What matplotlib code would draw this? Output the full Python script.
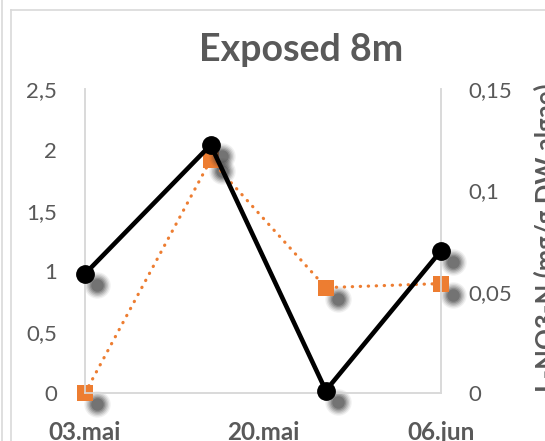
import matplotlib
matplotlib.use("Agg")
from matplotlib import pyplot as plt
import matplotlib.transforms as mtransforms
from matplotlib.lines import Line2D
import pandas as pd

plt.rcParams['font.family'] = ['Lato', 'DejaVu Sans']

# sampling dates and measured values
dates = pd.to_datetime(['2017-05-03', '2017-05-15', '2017-05-26', '2017-06-06'])
left_vals = [0.98, 2.04, 0.02, 1.17]        # black series, left axis
no3_vals = [0.0, 0.115, 0.052, 0.054]       # orange series, right axis

tick_dates = pd.to_datetime(['2017-05-03', '2017-05-20', '2017-06-06'])
tick_labels = ['03.mai', '20.mai', '06.jun']
left_ticks = [0, 0.5, 1, 1.5, 2, 2.5]
right_ticks = [0, 0.05, 0.1, 0.15]

grey_txt = '#595959'
grid_col = '#d9d9d9'
orange = '#ED7D31'


def comma(v):
    s = ('%g' % v).replace('.', ',')
    return s


def shadow(ax, x, y, fig):
    # soft drop shadow below/right of each marker
    tr = mtransforms.offset_copy(ax.transData, fig, x=8.5, y=-8, units='points')
    for size, a in [(19, 0.07), (17, 0.1), (15, 0.14), (13, 0.18), (11, 0.22), (9, 0.28)]:
        ax.plot(x, y, linestyle='none', marker='o', markersize=size,
                color='#303030', alpha=a, markeredgewidth=0,
                transform=tr, clip_on=False, zorder=1)


fig = plt.figure(figsize=(5.45, 4.41), dpi=100)
ax = fig.add_axes([85 / 545, 48 / 441, 356 / 545, 304 / 441])
ax2 = ax.twinx()

# orange series on the secondary axis
shadow(ax2, dates, no3_vals, fig)
ax2.plot(dates, no3_vals, color=orange, linewidth=2.3,
         linestyle=(0, (0.1, 2.4)), dash_capstyle='round',
         marker='s', markersize=11, markeredgewidth=0, clip_on=False, zorder=3)

# black series on the primary axis, drawn above the orange one
shadow(ax, dates, left_vals, fig)
ax.plot(dates, left_vals, color='black', linewidth=3.3,
        marker='o', markersize=12.5, clip_on=False, zorder=3)

ax.set_zorder(ax2.get_zorder() + 1)
ax.patch.set_visible(False)

ax.set_xlim(dates[0], dates[-1])
ax.set_ylim(0, 2.5)
ax2.set_ylim(0, 0.15)

ax.set_xticks(tick_dates)
ax.set_xticklabels(tick_labels, fontweight='bold', fontsize=17.5, color=grey_txt)
ax.set_yticks(left_ticks)
ax.set_yticklabels([comma(v) for v in left_ticks], fontsize=16, color=grey_txt)
ax2.set_yticks(right_ticks)
ax2.set_yticklabels([comma(v) for v in right_ticks], fontsize=16, color=grey_txt)

ax.tick_params(axis='x', length=0, pad=20)
ax.tick_params(axis='y', length=0, pad=20)
ax2.tick_params(axis='y', length=0, pad=20)

for a in (ax, ax2):
    a.spines['top'].set_visible(False)
    for s in ('left', 'right', 'bottom'):
        a.spines[s].set_color(grid_col)
        a.spines[s].set_linewidth(1.2)

ax2.set_ylabel('L-NO3-N (mg/g DW algae)', fontsize=18.5, fontweight='bold',
               color=grey_txt, rotation=90, labelpad=12)
ax2.yaxis.set_label_coords(1.26, 0.51)

fig.text(301 / 545, 1 - 50 / 441, 'Exposed 8m', ha='center', va='center',
         fontsize=27, fontweight='bold', color=grey_txt)

# chart frame lines
fig.add_artist(Line2D([2 / 545, 2 / 545], [0, 1], color=grid_col, lw=1.2))
fig.add_artist(Line2D([11 / 545, 11 / 545], [0, 1 - 10 / 441], color=grid_col, lw=1.2))
fig.add_artist(Line2D([11 / 545, 1], [1 - 10 / 441, 1 - 10 / 441], color=grid_col, lw=1.2))

fig.savefig('out.png', dpi=100)
